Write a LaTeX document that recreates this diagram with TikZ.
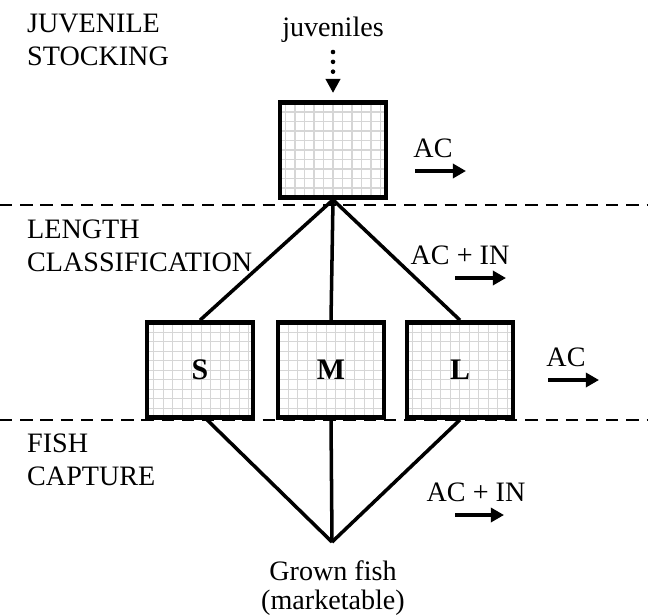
\documentclass[tikz,border=0pt]{standalone}
\usepackage{fontspec}
\setmainfont{Liberation Serif}
\usetikzlibrary{arrows.meta,positioning}

\def\boxw{2.12cm}
\def\boxh{1.9cm}

\tikzset{
  pond/.style={draw, line width=2.6pt, minimum width=\boxw, minimum height=\boxh,
    inner sep=0pt, font=\fontsize{17}{19}\selectfont\bfseries,
    path picture={\draw[black!16, line width=0.6pt, step=0.19cm]
      (path picture bounding box.south west) grid (path picture bounding box.north east);}},
  stage/.style={anchor=west, align=left, font=\fontsize{16}{19}\selectfont},
  txt/.style={font=\fontsize{16}{19}\selectfont, inner sep=1pt},
  link/.style={line width=2pt},
  border/.style={dash pattern=on 7pt off 4.5pt, line width=1.1pt},
  flow/.style={line width=2.3pt, -{Triangle[length=7.5pt,width=8pt]}}
}

\begin{document}
\begin{tikzpicture}[x=0.02cm, y=-0.02cm]
  \useasboundingbox (0,0) rectangle (648,615);

  % stage labels
  \node[stage] (stock) at (21,40) {JUVENILE\\STOCKING};
  \node[stage] (length) at (21,246) {LENGTH\\CLASSIFICATION};
  \node[stage] (capture) at (21,460) {FISH\\CAPTURE};

  % borders between stages
  \draw[border] (0,205) -- (648,205);
  \draw[border] (0,420) -- (648,420);

  % juveniles in
  \node[txt] (juv) at (333,30) {juveniles};
  \coordinate (juvdot) at (333,52);
  \coordinate (juvtip) at (333,93);
  \draw[line width=2.6pt, line cap=round, dash pattern=on 0pt off 5.6pt,
    -{Triangle[length=8pt,width=8pt]}] (juvdot) -- (juvtip);

  % ponds
  \node[pond] (top) at (333,150) {};
  \node[pond] (S) at (200,370) {S};
  \node[pond] (M) at (331,370) {M};
  \node[pond] (L) at (460,370) {L};

  % classification
  \draw[link] (top.south) -- (S.north);
  \draw[link] (top.south) -- (M.north);
  \draw[link] (top.south) -- (L.north);

  % capture
  \coordinate (sink) at (332,542);
  \draw[link] ([xshift=0.14cm]S.south) -- (sink);
  \draw[link] (M.south) -- (sink);
  \draw[link] (L.south) -- (sink);
  \node[txt, align=center, anchor=north, font=\fontsize{16}{16.5}\selectfont]
    (grown) at (333,559) {Grown fish\\(marketable)};

  % costs
  \node[txt] (ac1) at (433,148) {AC};
  \coordinate (ac1a) at (415,171);
  \coordinate (ac1b) at (466,171);
  \draw[flow] (ac1a) -- (ac1b);

  \node[txt] (acin1) at (460,255) {AC + IN};
  \coordinate (acin1a) at (455,278);
  \coordinate (acin1b) at (506,278);
  \draw[flow] (acin1a) -- (acin1b);

  \node[txt] (ac2) at (566,357) {AC};
  \coordinate (ac2a) at (548,380);
  \coordinate (ac2b) at (599,380);
  \draw[flow] (ac2a) -- (ac2b);

  \node[txt] (acin2) at (476,492) {AC + IN};
  \coordinate (acin2a) at (455,515);
  \coordinate (acin2b) at (504,515);
  \draw[flow] (acin2a) -- (acin2b);
\end{tikzpicture}
\end{document}
